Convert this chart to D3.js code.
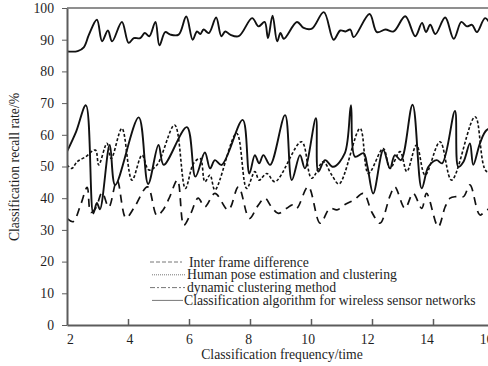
<!DOCTYPE html>
<html lang="en">
<head>
  <meta charset="UTF-8">
  <title>Classification recall rate</title>
  <script src="https://d3js.org/d3.v7.min.js"></script>
  <style>
    body { margin: 0; background: #fff; }
    text { font-family: "Liberation Serif", "Times New Roman", serif; fill: #1e1e1e; }
    .axis path, .axis line { stroke: #5c5c5c; }
    .series { fill: none; stroke: #111; }
  </style>
</head>
<body>
<div id="chart"></div>
<script>
  // legend names
  var seriesNames = [
    "Inter frame difference",
    "Human pose estimation and clustering",
    "dynamic clustering method",
    "Classification algorithm for wireless sensor networks"
  ];

  var xTicks = [2, 4, 6, 8, 10, 12, 14, 16];
  var yTicks = [0, 10, 20, 30, 40, 50, 60, 70, 80, 90, 100];

  // Classification algorithm for wireless sensor networks (top solid line)
  var wsnX = [2, 2.35, 2.55, 2.72, 2.98, 3.15, 3.34, 3.48, 3.8, 4.02, 4.19, 4.4, 4.55, 4.7, 4.9, 5.03, 5.22, 5.39, 5.66, 5.91,
    6.12, 6.26, 6.37, 6.48, 6.65, 6.89, 7.06, 7.19, 7.35, 7.63, 8.07, 8.28, 8.48, 8.59, 8.74, 8.89, 9, 9.11, 9.54, 9.76,
    10.03, 10.42, 10.74, 10.96, 11.13, 11.29, 11.4, 11.92, 12.16, 12.44, 12.71, 13.09, 13.42, 13.64, 13.77, 13.91, 14.08,
    14.4, 14.68, 14.93, 15.11, 15.28, 15.44, 15.71, 15.95, 16.2];
  var wsnY = [86.3, 86.4, 87.6, 91.6, 96.3, 89.5, 92.9, 89.5, 95.6, 89, 90.5, 90.5, 92.1, 91.1, 95.6, 88.2, 92.4, 91.6, 91.6, 97.3,
    90, 92.6, 91.8, 93.2, 92.1, 97, 91.1, 92.6, 91.6, 91.1, 96.8, 94.2, 95.6, 90.5, 97.6, 89.5, 92.1, 90.3, 95.6, 93.7,
    93.5, 98.7, 90, 92.9, 92.6, 93.2, 90.8, 98.1, 92.4, 93.2, 92.6, 97.4, 91.1, 95.3, 92.4, 94.7, 91.8,
    97, 90.3, 95.6, 94.2, 94.7, 92.4, 96.8, 94.5, 96];

  // Inter frame difference (middle solid line)
  var ifdX = [2, 2.3, 2.62, 2.86, 2.98, 3.08, 3.4, 3.58, 4.35, 4.66, 5, 5.17, 5.93, 6.21, 6.52, 6.69, 6.85, 7.07, 7.76, 7.98,
    8.16, 8.3, 8.44, 8.66, 9.15, 9.37, 9.64, 9.8, 10.16, 10.24, 10.46, 10.73, 11.11, 11.31, 11.44, 11.72, 11.85, 12.04,
    12.37, 12.59, 12.75, 12.95, 13.33, 13.63, 13.85, 14.12, 14.3, 14.72, 14.83, 15, 15.21, 15.32, 15.54, 15.76, 16.2];
  var ifdY = [54.7, 61, 69.3, 35.2, 38.5, 36.5, 56.8, 44.2, 65.5, 44.5, 56.8, 50.5, 62.4, 46.8, 54.4, 49.4, 52, 50.5, 64.7, 47.8,
    53.6, 51, 53.6, 50.5, 66.2, 45.7, 53.6, 49.4, 65.2, 48.4, 52, 49.9, 54.2, 69.3, 53.1, 54.2, 50, 41.5,
    55.2, 49.4, 53.6, 52, 69.5, 43.1, 49.9, 52, 51, 67.5, 49.9, 51.5, 57.3, 50.5, 57.3, 61.5, 63];

  // Human pose estimation and clustering (short dashes)
  var hpeX = [2, 2.16, 2.33, 2.6, 2.93, 3.04, 3.31, 3.45, 3.8, 4.13, 4.46, 4.68, 4.95, 5.53, 5.88, 6.15, 6.37, 6.52, 6.69, 6.85,
    7.56, 7.89, 8.16, 8.3, 8.55, 8.82, 9.69, 10.02, 10.4, 10.68, 10.92, 11.61, 11.88, 12.37, 12.59, 12.92, 13.14, 13.46,
    13.74, 14.23, 14.61, 15.38, 15.76, 16.2];
  var hpeY = [50.5, 49.4, 51.5, 53, 55.2, 50.5, 57.3, 52.5, 62, 45.7, 53.6, 48.9, 50.5, 63.1, 43.1, 51, 52.5, 45.2, 47.3, 42.6,
    60.5, 43.1, 48.4, 45.7, 47.8, 45.2, 57.8, 46.3, 51.5, 47.3, 44.5, 62, 47.8, 55.7, 49.4, 54.7, 48.4, 56.8,
    47.3, 57.8, 45.7, 65.7, 48.4, 50];

  // dynamic clustering method (long dashes)
  var dcmX = [2, 2.2, 2.45, 2.66, 2.78, 2.95, 3.15, 3.37, 3.64, 3.93, 4.2, 4.64, 4.95, 5.15, 5.35, 5.62, 5.83, 6.05, 6.3, 6.52,
    6.85, 7.29, 7.62, 7.98, 8.25, 8.49, 8.7, 8.93, 9.2, 9.4, 9.53, 9.91, 10.3, 10.62, 10.85, 11.1, 11.4, 11.72, 12, 12.26,
    12.6, 12.75, 13.08, 13.35, 13.63, 13.79, 14.17, 14.4, 14.56, 14.75, 15, 15.21, 15.54, 15.76, 16.2];
  var dcmY = [33.6, 32.6, 38, 43.4, 35.5, 37, 41.8, 37.2, 45.7, 33.8, 37, 43.6, 34.5, 36.3, 40, 45.7, 31.5, 35, 40, 37.3,
    41.5, 36.3, 43.6, 33.6, 37.5, 40, 37.3, 35.2, 36.8, 37.9, 36.8, 43.6, 32.1, 36.8, 36.3, 37.9, 39.4, 41.5, 35.5, 32.1,
    41, 43.6, 36.8, 41.5, 36.8, 41.5, 31, 37.3, 40, 40.5, 40.5, 44.2, 34.7, 36.3, 37];

  var w = 488, h = 366;
  var plot = {left: 67, right: 494, top: 8, bottom: 325};
  var fontSize = "13.7px";

  var svg = d3.select("#chart").append("svg")
    .attr("width", w)
    .attr("height", h);

  var xScale = d3.scaleLinear().domain([2, 16]).range([plot.left, plot.right]);
  // labels sit a little off the tick marks in the original figure
  var xLabelScale = d3.scaleLinear().domain([2, 16]).range([70, 486]);
  var yScale = d3.scaleLinear().domain([0, 100]).range([plot.bottom, plot.top]);

  svg.append("clipPath").attr("id", "clip")
    .append("rect")
    .attr("x", plot.left).attr("y", plot.top)
    .attr("width", plot.right - plot.left).attr("height", plot.bottom - plot.top);

  var line = d3.line()
    .x(d => xScale(d[0]))
    .y(d => yScale(d[1]))
    .curve(d3.curveCatmullRom.alpha(0.5));

  var series = [
    {x: dcmX, y: dcmY, dash: "8,6", width: 1.7},
    {x: hpeX, y: hpeY, dash: "3,2", width: 1.6},
    {x: ifdX, y: ifdY, dash: null, width: 1.9},
    {x: wsnX, y: wsnY, dash: null, width: 1.9}
  ];

  svg.append("g").attr("clip-path", "url(#clip)")
    .selectAll("path")
    .data(series)
    .enter()
    .append("path")
    .attr("class", "series")
    .attr("d", s => line(d3.zip(s.x, s.y)))
    .attr("stroke-width", s => s.width)
    .attr("stroke-dasharray", s => s.dash);

  // y axis, ticks pointing out
  var yAxis = svg.append("g")
    .attr("class", "axis")
    .attr("transform", "translate(" + plot.left + ",0)")
    .call(d3.axisLeft(yScale).tickValues(yTicks).tickSize(5).tickSizeOuter(0).tickPadding(8));
  yAxis.select(".domain").attr("stroke-width", 2);
  yAxis.selectAll("text").style("font-size", fontSize).attr("fill", "#1e1e1e");

  // x axis: tick marks point up into the plot
  var xAxis = svg.append("g")
    .attr("class", "axis")
    .attr("transform", "translate(0," + plot.bottom + ")")
    .call(d3.axisBottom(xScale).tickValues(xTicks.slice(1, -1)).tickSize(-6).tickSizeOuter(0).tickFormat(""));
  xAxis.select(".domain").attr("stroke-width", 2);
  xAxis.selectAll(".tick line").attr("stroke-width", 1.5);

  var xLabels = svg.append("g")
    .attr("transform", "translate(0," + plot.bottom + ")")
    .call(d3.axisBottom(xLabelScale).tickValues(xTicks).tickSize(0).tickPadding(9));
  xLabels.select(".domain").remove();
  xLabels.selectAll("text").style("font-size", fontSize).attr("fill", "#1e1e1e");

  // top frame line
  svg.append("line")
    .attr("x1", plot.left).attr("x2", w)
    .attr("y1", plot.top).attr("y2", plot.top)
    .attr("stroke", "#6a6a6a")
    .attr("stroke-width", 1.5);

  svg.append("text")
    .attr("x", 282).attr("y", 359)
    .attr("text-anchor", "middle")
    .style("font-size", fontSize)
    .text("Classification frequency/time");

  svg.append("text")
    .attr("transform", "translate(19,167) rotate(-90)")
    .attr("text-anchor", "middle")
    .style("font-size", fontSize)
    .text("Classification recall rate/%");

  // legend
  var legendDash = ["4,2", "1,1", "5,2,2,2", null];
  var legendLine = [[150, 182, 189], [152, 185, 187], [150, 185, 187], [152, 183, 184]];

  var rows = svg.append("g").selectAll("g")
    .data(seriesNames)
    .enter()
    .append("g")
    .attr("transform", (d, i) => "translate(0," + (262 + i * 12.8) + ")");

  rows.append("line")
    .attr("x1", (d, i) => legendLine[i][0])
    .attr("x2", (d, i) => legendLine[i][1])
    .attr("stroke", "#777")
    .attr("stroke-width", 1)
    .attr("stroke-dasharray", (d, i) => legendDash[i]);

  rows.append("text")
    .attr("x", (d, i) => legendLine[i][2])
    .attr("y", 4.5)
    .style("font-size", fontSize)
    .text(d => d);
</script>
</body>
</html>
